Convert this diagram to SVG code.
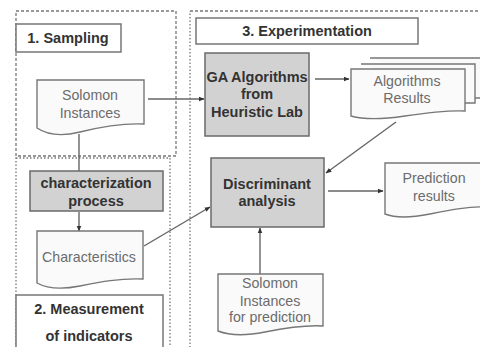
<svg xmlns="http://www.w3.org/2000/svg" width="480" height="347" viewBox="0 0 480 347">
<defs>
<style>
.frame{fill:none;stroke:#777;stroke-width:1.3;stroke-dasharray:3,2}
.dot{fill:none;stroke:#777;stroke-width:1.3;stroke-dasharray:1.5,2}
.title{fill:#fff;stroke:#777;stroke-width:1.5}
.proc{fill:#d2d2d2;stroke:#6a6a6a;stroke-width:1.5}
.doc{fill:#fafafa;stroke:#777;stroke-width:1.4}
.b{font-family:"Liberation Sans",Arial,sans-serif;font-weight:bold;font-size:14.5px;fill:#333;text-anchor:middle}
.r{font-family:"Liberation Sans",Arial,sans-serif;font-size:14.2px;fill:#6c6c6c;text-anchor:middle}
.c{fill:none;stroke:#666;stroke-width:1.4}
</style>
<marker id="ah" viewBox="0 0 10 10" refX="9" refY="5" markerWidth="6" markerHeight="6" orient="auto" markerUnits="userSpaceOnUse">
<path d="M0,1 L10,5 L0,9 Z" fill="#333"/>
</marker>
</defs>
<rect width="480" height="347" fill="#fff"/>
<g id="frames">
<rect class="frame" x="16" y="11" width="160" height="145"/>
<rect class="dot" x="16" y="158" width="154" height="200"/>
<path class="dot" d="M190,358 V11"/>
<path class="frame" d="M190,11 H490"/>
</g>
<g id="connectors">
<line class="c" x1="148" y1="99" x2="204" y2="99" marker-end="url(#ah)"/>
<line class="c" x1="79" y1="134" x2="79" y2="171"/>
<line class="c" x1="79" y1="212" x2="79" y2="231" marker-end="url(#ah)"/>
<line class="c" x1="144" y1="246" x2="210" y2="207" marker-end="url(#ah)"/>
<line class="c" x1="315" y1="79" x2="349" y2="79" marker-end="url(#ah)"/>
<line class="c" x1="396" y1="122" x2="326" y2="173" marker-end="url(#ah)"/>
<line class="c" x1="328" y1="191" x2="383" y2="191" marker-end="url(#ah)"/>
<line class="c" x1="260" y1="274" x2="260" y2="228" marker-end="url(#ah)"/>
</g>
<g id="sampling-title">
<rect class="title" x="16" y="24" width="105" height="28"/>
<text class="b" x="68" y="43">1. Sampling</text>
</g>
<g id="solomon">
<path class="doc" d="M37,80 H144 V124 C120,123 100,127 80,132 C60,137 46,134 37,128 Z"/>
<text class="r" x="90" y="100">Solomon</text>
<text class="r" x="90" y="118">Instances</text>
</g>
<g id="characterization">
<rect class="proc" x="30" y="171" width="133" height="40"/>
<text class="b" x="96" y="188">characterization</text>
<text class="b" x="96" y="206">process</text>
</g>
<g id="characteristics">
<path class="doc" d="M37,231 H143 V279 C120,278 100,282 80,286 C60,290 46,288 37,283 Z"/>
<text class="r" x="89" y="262">Characteristics</text>
</g>
<g id="measurement-title">
<rect class="title" x="16" y="295" width="147" height="60"/>
<text class="b" x="89" y="314">2. Measurement</text>
<text class="b" x="89" y="341">of indicators</text>
</g>
<g id="experimentation-title">
<rect class="title" x="196" y="18" width="222" height="26"/>
<text class="b" x="307" y="36">3. Experimentation</text>
</g>
<g id="ga">
<rect class="proc" x="205" y="53" width="104" height="83"/>
<text class="b" x="257" y="82">GA Algorithms</text>
<text class="b" x="257" y="99">from</text>
<text class="b" x="257" y="117">Heuristic Lab</text>
</g>
<g id="results">
<path class="doc" d="M370,58 H486 V98 H475"/>
<path class="doc" d="M361,64 H475 V103 H465"/>
<path class="doc" d="M351,69 H465 V111 C445,110 425,113 405,116 C385,119 365,120 351,116 Z"/>
<text class="r" x="407" y="86">Algorithms</text>
<text class="r" x="407" y="103">Results</text>
</g>
<g id="discriminant">
<rect class="proc" x="211" y="158" width="113" height="69"/>
<text class="b" x="267" y="189">Discriminant</text>
<text class="b" x="267" y="206">analysis</text>
</g>
<g id="prediction">
<path class="doc" d="M385,163 H490 V207 C470,206 450,210 430,214 C410,218 395,218 385,214 Z"/>
<text class="r" x="434" y="183">Prediction</text>
<text class="r" x="434" y="201">results</text>
</g>
<g id="solomon-pred">
<path class="doc" d="M218,274 H323 V326 C305,325 285,328 265,332 C245,336 228,335 218,331 Z"/>
<text class="r" x="270" y="288">Solomon</text>
<text class="r" x="270" y="306">Instances</text>
<text class="r" x="270" y="322">for prediction</text>
</g>
</svg>
